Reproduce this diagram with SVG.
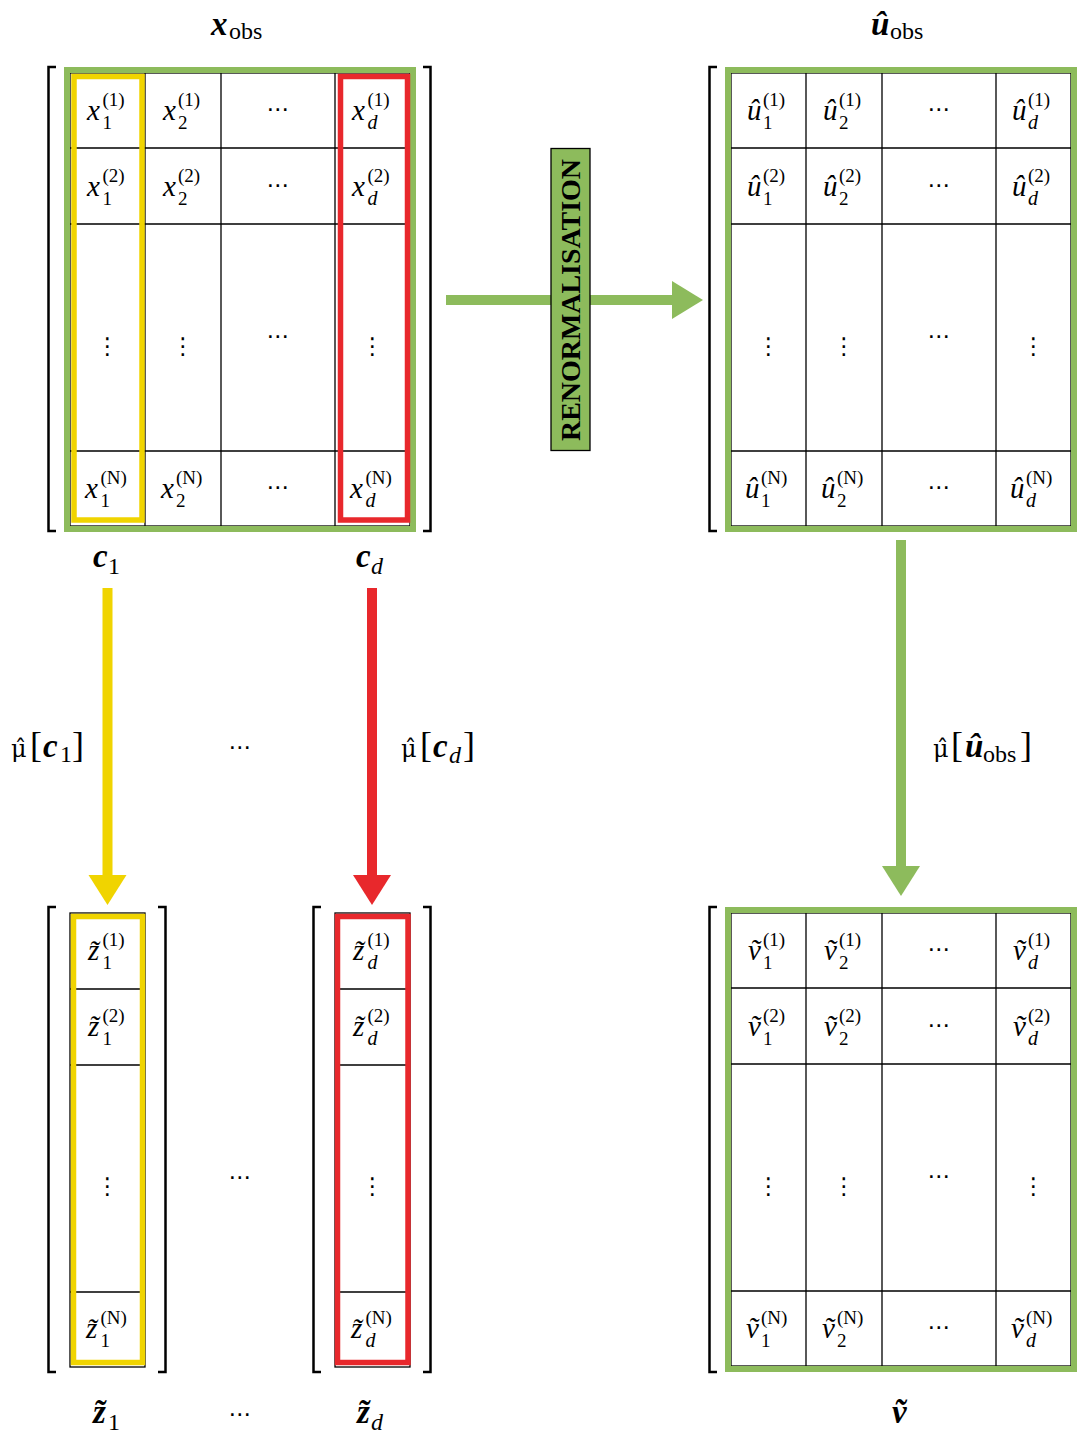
<svg xmlns="http://www.w3.org/2000/svg" width="1086" height="1433" viewBox="0 0 1086 1433">
<defs>
<style>
.m{font-family:"Liberation Serif",serif;font-style:italic;font-size:29px;fill:#000}
.s{font-family:"Liberation Serif",serif;font-size:19px;fill:#000}
.si{font-family:"Liberation Serif",serif;font-style:italic;font-size:20px;fill:#000}
.dt{font-family:"DejaVu Sans",sans-serif;font-size:23px;text-anchor:middle;fill:#000}
.bl{font-family:"Liberation Serif",serif;font-style:italic;font-weight:bold;font-size:33px;fill:#000}
.lb{font-family:"Liberation Serif",serif;font-size:24px;fill:#000}
.lbs{font-family:"Liberation Serif",serif;font-size:24px;fill:#000}
.lbsi{font-family:"Liberation Serif",serif;font-style:italic;font-size:24px;fill:#000}
.mu{font-family:"DejaVu Serif",serif;font-size:24px;fill:#000}
.bk{font-family:"Liberation Serif",serif;font-size:36px;fill:#000}
.grid{fill:#fff;stroke:#000;stroke-width:1.3}
.gl{stroke:#000;stroke-width:1.3}
.green{fill:none;stroke:#8dbb5c;stroke-width:6}
.yel{fill:none;stroke:#f0d400;stroke-width:5.5}
.red{fill:none;stroke:#e8282c;stroke-width:5.5}
.brk{fill:none;stroke:#000;stroke-width:2.5}
</style>
</defs>
<rect width="1086" height="1433" fill="#fff"/>

<g id="connectors">
<rect x="446" y="295" width="227" height="10" fill="#8dbb5c"/>
<polygon points="672,281 703,300 672,319" fill="#8dbb5c"/>
<rect x="102.5" y="588" width="10" height="288" fill="#f0d400"/>
<polygon points="88.5,875 107.5,905 126.5,875" fill="#f0d400"/>
<rect x="367" y="588" width="10" height="288" fill="#e8282c"/>
<polygon points="353,875 372,905 391,875" fill="#e8282c"/>
<rect x="896" y="540" width="10" height="327" fill="#8dbb5c"/>
<polygon points="882,866 901,896 920,866" fill="#8dbb5c"/>
</g>

<g id="renorm">
<rect x="551" y="148.5" width="39" height="302" fill="#8dbb5c" stroke="#000" stroke-width="1.3"/>
<text transform="translate(580,300) rotate(-90)" text-anchor="middle" font-family="Liberation Serif, serif" font-weight="bold" font-size="27" textLength="282" lengthAdjust="spacingAndGlyphs">RENORMALISATION</text>
</g>

<!-- top-left matrix x_obs -->
<g id="xobs">
<path class="brk" d="M56,67 H48.5 V531 H56"/>
<path class="brk" d="M423,67 H430.5 V531 H423"/>
<rect class="grid" x="70" y="73" width="340" height="453"/>
<path class="gl" d="M145,73V526M221,73V526M335,73V526M70,148H410M70,224H410M70,451H410"/>
<rect class="green" x="67" y="70" width="346" height="459"/>
<text class="bl" x="211" y="35">x</text><text class="lbs" x="229" y="39">obs</text>
<text class="m" x="87" y="120">x</text><text class="s" x="102.5" y="129">1</text><text class="s" x="102.5" y="106">(1)</text>
<text class="m" x="163" y="120">x</text><text class="s" x="178" y="129">2</text><text class="s" x="178" y="106">(1)</text>
<text class="dt" x="278" y="117">⋯</text>
<text class="m" x="352" y="120">x</text><text class="si" x="367.5" y="129">d</text><text class="s" x="367.5" y="106">(1)</text>
<text class="m" x="87" y="195.5">x</text><text class="s" x="102.5" y="204.5">1</text><text class="s" x="102.5" y="181.5">(2)</text>
<text class="m" x="163" y="195.5">x</text><text class="s" x="178" y="204.5">2</text><text class="s" x="178" y="181.5">(2)</text>
<text class="dt" x="278" y="192.5">⋯</text>
<text class="m" x="352" y="195.5">x</text><text class="si" x="367.5" y="204.5">d</text><text class="s" x="367.5" y="181.5">(2)</text>
<text class="dt" x="107.5" y="354">⋮</text>
<text class="dt" x="183" y="354">⋮</text>
<text class="dt" x="278" y="344">⋯</text>
<text class="dt" x="372.5" y="354">⋮</text>
<text class="m" x="85" y="498">x</text><text class="s" x="100.5" y="507">1</text><text class="s" x="100.5" y="484">(N)</text>
<text class="m" x="161" y="498">x</text><text class="s" x="176" y="507">2</text><text class="s" x="176" y="484">(N)</text>
<text class="dt" x="278" y="495">⋯</text>
<text class="m" x="350" y="498">x</text><text class="si" x="365.5" y="507">d</text><text class="s" x="365.5" y="484">(N)</text>
</g>
<g id="c1col"><rect class="yel" x="74" y="76.5" width="68" height="443.5"/>
<text class="bl" x="93" y="567">c</text><text class="lb" x="108" y="574">1</text></g>
<g id="cdcol"><rect class="red" x="340.5" y="76.5" width="67" height="443.5"/>
<text class="bl" x="356" y="567">c</text><text class="lbsi" x="371" y="574">d</text></g>

<!-- top-right matrix u_obs -->
<g id="uobs">
<path class="brk" d="M717,67 H709.5 V531 H717"/>
<rect class="grid" x="731" y="73" width="340" height="453"/>
<path class="gl" d="M806,73V526M882,73V526M996,73V526M731,148H1071M731,224H1071M731,451H1071"/>
<rect class="green" x="728" y="70" width="346" height="459"/>
<text class="bl" x="871" y="35">û</text><text class="lbs" x="890" y="39">obs</text>
<text class="m" x="747" y="120">û</text><text class="s" x="763" y="129">1</text><text class="s" x="763" y="106">(1)</text>
<text class="m" x="823" y="120">û</text><text class="s" x="839" y="129">2</text><text class="s" x="839" y="106">(1)</text>
<text class="dt" x="939" y="117">⋯</text>
<text class="m" x="1012" y="120">û</text><text class="si" x="1028" y="129">d</text><text class="s" x="1028" y="106">(1)</text>
<text class="m" x="747" y="195.5">û</text><text class="s" x="763" y="204.5">1</text><text class="s" x="763" y="181.5">(2)</text>
<text class="m" x="823" y="195.5">û</text><text class="s" x="839" y="204.5">2</text><text class="s" x="839" y="181.5">(2)</text>
<text class="dt" x="939" y="192.5">⋯</text>
<text class="m" x="1012" y="195.5">û</text><text class="si" x="1028" y="204.5">d</text><text class="s" x="1028" y="181.5">(2)</text>
<text class="dt" x="768.5" y="354">⋮</text>
<text class="dt" x="844" y="354">⋮</text>
<text class="dt" x="939" y="344">⋯</text>
<text class="dt" x="1033.5" y="354">⋮</text>
<text class="m" x="745" y="498">û</text><text class="s" x="761" y="507">1</text><text class="s" x="761" y="484">(N)</text>
<text class="m" x="821" y="498">û</text><text class="s" x="837" y="507">2</text><text class="s" x="837" y="484">(N)</text>
<text class="dt" x="939" y="495">⋯</text>
<text class="m" x="1010" y="498">û</text><text class="si" x="1026" y="507">d</text><text class="s" x="1026" y="484">(N)</text>
</g>

<!-- arrow labels -->
<g id="lab1"><text class="mu" x="11" y="757">μ̂</text><text class="bk" x="30" y="757">[</text><text class="bl" x="43" y="757" font-size="29">c</text><text class="lb" x="60" y="762" font-size="20">1</text><text class="bk" x="72" y="757">]</text></g>
<text class="dt" x="240" y="755">⋯</text>
<g id="labd"><text class="mu" x="401" y="757">μ̂</text><text class="bk" x="420" y="757">[</text><text class="bl" x="433" y="757" font-size="29">c</text><text class="lbsi" x="449" y="763" font-size="21">d</text><text class="bk" x="463" y="757">]</text></g>
<g id="labu"><text class="mu" x="933" y="757">μ̂</text><text class="bk" x="951" y="757">[</text><text class="bl" x="965" y="757" font-size="29">û</text><text class="lb" x="983" y="762" font-size="24">obs</text><text class="bk" x="1020" y="757">]</text></g>

<!-- bottom z1 -->
<g id="z1">
<path class="brk" d="M56,907 H48.5 V1372 H56"/>
<path class="brk" d="M158,907 H165.5 V1372 H158"/>
<rect class="grid" x="70" y="913" width="75" height="454"/>
<path class="gl" d="M70,989H145M70,1065H145M70,1292H145"/>
<rect class="yel" x="73.5" y="916.5" width="69" height="446"/>
<text class="m" x="88" y="960">z̃</text><text class="s" x="102.5" y="969">1</text><text class="s" x="102.5" y="946">(1)</text>
<text class="m" x="88" y="1035.5">z̃</text><text class="s" x="102.5" y="1044.5">1</text><text class="s" x="102.5" y="1021.5">(2)</text>
<text class="dt" x="107.5" y="1194">⋮</text>
<text class="m" x="86" y="1338">z̃</text><text class="s" x="100.5" y="1347">1</text><text class="s" x="100.5" y="1324">(N)</text>
<text class="bl" x="93" y="1423">z̃</text><text class="lb" x="108" y="1430">1</text>
</g>
<text class="dt" x="240" y="1185">⋯</text>
<text class="dt" x="240" y="1422">⋯</text>
<!-- bottom zd -->
<g id="zd">
<path class="brk" d="M321,907 H313.5 V1372 H321"/>
<path class="brk" d="M423,907 H430.5 V1372 H423"/>
<rect class="grid" x="335" y="913" width="75" height="454"/>
<path class="gl" d="M335,989H410M335,1065H410M335,1292H410"/>
<rect class="red" x="337.5" y="916.5" width="70.5" height="446"/>
<text class="m" x="353" y="960">z̃</text><text class="si" x="367.5" y="969">d</text><text class="s" x="367.5" y="946">(1)</text>
<text class="m" x="353" y="1035.5">z̃</text><text class="si" x="367.5" y="1044.5">d</text><text class="s" x="367.5" y="1021.5">(2)</text>
<text class="dt" x="372.5" y="1194">⋮</text>
<text class="m" x="351" y="1338">z̃</text><text class="si" x="365.5" y="1347">d</text><text class="s" x="365.5" y="1324">(N)</text>
<text class="bl" x="357" y="1423">z̃</text><text class="lbsi" x="371" y="1430">d</text>
</g>

<!-- bottom-right v -->
<g id="vmat">
<path class="brk" d="M717,907 H709.5 V1372 H717"/>
<rect class="grid" x="731" y="913" width="340" height="453"/>
<path class="gl" d="M806,913V1366M882,913V1366M996,913V1366M731,988H1071M731,1064H1071M731,1291H1071"/>
<rect class="green" x="728" y="910" width="346" height="459"/>
<text class="m" x="748" y="960">ṽ</text><text class="s" x="763" y="969">1</text><text class="s" x="763" y="946">(1)</text>
<text class="m" x="824" y="960">ṽ</text><text class="s" x="839" y="969">2</text><text class="s" x="839" y="946">(1)</text>
<text class="dt" x="939" y="957">⋯</text>
<text class="m" x="1013" y="960">ṽ</text><text class="si" x="1028" y="969">d</text><text class="s" x="1028" y="946">(1)</text>
<text class="m" x="748" y="1035.5">ṽ</text><text class="s" x="763" y="1044.5">1</text><text class="s" x="763" y="1021.5">(2)</text>
<text class="m" x="824" y="1035.5">ṽ</text><text class="s" x="839" y="1044.5">2</text><text class="s" x="839" y="1021.5">(2)</text>
<text class="dt" x="939" y="1032.5">⋯</text>
<text class="m" x="1013" y="1035.5">ṽ</text><text class="si" x="1028" y="1044.5">d</text><text class="s" x="1028" y="1021.5">(2)</text>
<text class="dt" x="768.5" y="1194">⋮</text>
<text class="dt" x="844" y="1194">⋮</text>
<text class="dt" x="939" y="1184">⋯</text>
<text class="dt" x="1033.5" y="1194">⋮</text>
<text class="m" x="746" y="1338">ṽ</text><text class="s" x="761" y="1347">1</text><text class="s" x="761" y="1324">(N)</text>
<text class="m" x="822" y="1338">ṽ</text><text class="s" x="837" y="1347">2</text><text class="s" x="837" y="1324">(N)</text>
<text class="dt" x="939" y="1335">⋯</text>
<text class="m" x="1011" y="1338">ṽ</text><text class="si" x="1026" y="1347">d</text><text class="s" x="1026" y="1324">(N)</text>
<text class="bl" x="892" y="1423">ṽ</text>
</g>
</svg>
